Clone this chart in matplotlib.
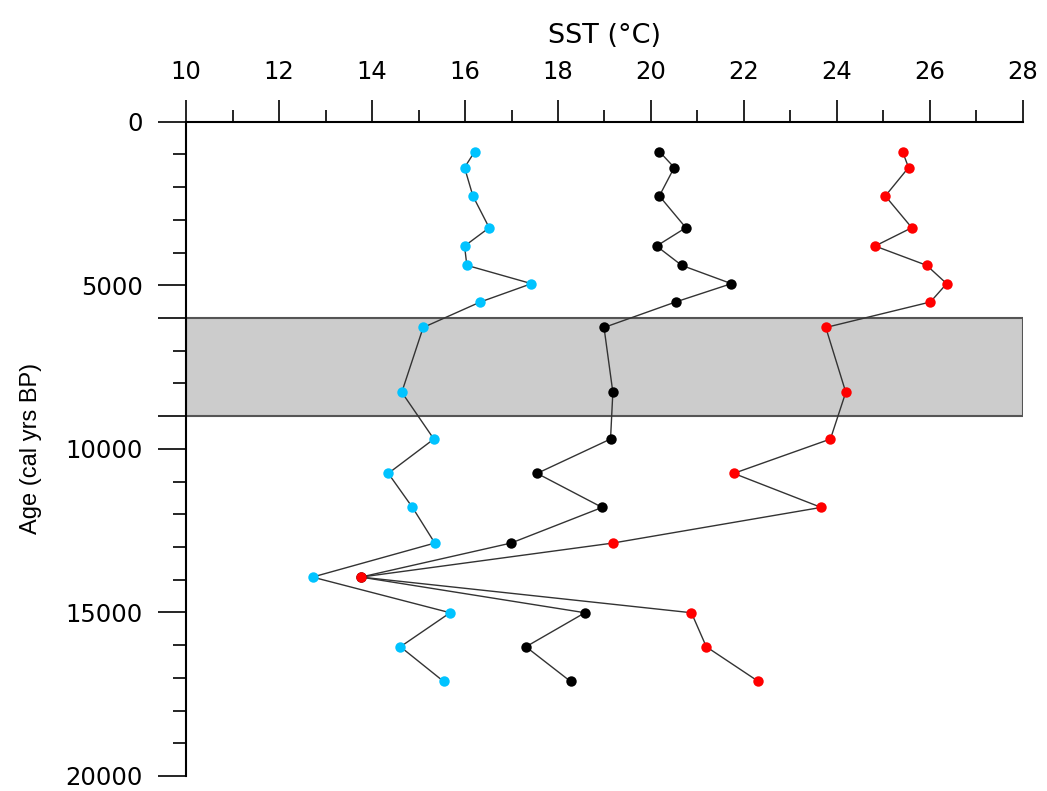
import matplotlib
matplotlib.use("Agg")
import matplotlib.pyplot as plt
from matplotlib.ticker import MultipleLocator, FixedLocator, FixedFormatter

# sample ages (cal yrs BP) and SST estimates (deg C)
age = [910, 1400, 2270, 3240, 3800, 4390, 4950, 5510, 6290, 8270, 9700,
       10750, 11790, 12880, 13920, 15010, 16050, 17110]
sst_blue = [16.21, 15.99, 16.17, 16.52, 15.99, 16.04, 17.43, 16.33, 15.10, 14.64, 15.33,
            14.35, 14.87, 15.35, 12.72, 15.68, 14.61, 15.54]
sst_black = [20.18, 20.50, 20.18, 20.75, 20.12, 20.66, 21.73, 20.53, 18.99, 19.18, 19.13,
             17.55, 18.95, 16.99, 13.76, 18.58, 17.31, 18.27]
sst_red = [25.41, 25.54, 25.04, 25.61, 24.82, 25.93, 26.36, 26.01, 23.76, 24.19, 23.86,
           21.78, 23.66, 19.18, 13.76, 20.87, 21.19, 22.31]

band = (6000, 9000)
y_major = [0, 5000, 6000, 9000, 10000, 15000, 20000]
y_labels = ['0', '5000', '', '', '10000', '15000', '20000']

plt.rcParams['font.family'] = ['DejaVu Sans']

fig = plt.figure(figsize=(10.47, 7.91), dpi=100)
ax = fig.add_axes([0.1777, 0.019, 0.7993, 0.8271])

# shaded interval
ax.axhspan(band[0], band[1], facecolor='#cccccc', edgecolor='#555555', lw=1.5, zorder=1)

for vals, col in [(sst_blue, '#00c3ff'), (sst_black, 'black'), (sst_red, '#ff0000')]:
    ax.plot(vals, age, color='#333333', lw=1.0, zorder=2)
    ax.plot(vals, age, 'o', color=col, ms=7.5, mew=0, zorder=3)

ax.set_xlim(10, 28)
ax.set_ylim(20000, 0)

ax.xaxis.set_ticks_position('top')
ax.xaxis.set_label_position('top')
ax.xaxis.set_major_locator(MultipleLocator(2))
ax.xaxis.set_minor_locator(MultipleLocator(1))
ax.yaxis.set_major_locator(FixedLocator(y_major))
ax.yaxis.set_major_formatter(FixedFormatter(y_labels))
ax.yaxis.set_minor_locator(MultipleLocator(1000))

ax.tick_params(axis='x', which='major', length=15.5, width=1.2, pad=12, labelsize=17.5)
ax.tick_params(axis='x', which='minor', length=8.5, width=1.2)
ax.tick_params(axis='y', which='major', length=20, width=1.2, pad=11, labelsize=17.5)
ax.tick_params(axis='y', which='minor', length=9.5, width=1.2)

for s in ['right', 'bottom']:
    ax.spines[s].set_visible(False)
ax.spines['left'].set_linewidth(1.5)
ax.spines['top'].set_linewidth(1.5)

ax.set_xlabel('SST (°C)', fontsize=19.5, labelpad=12)
ax.set_ylabel('Age (cal yrs BP)', fontsize=17,
              family=['Liberation Sans Narrow', 'Liberation Sans', 'DejaVu Sans'])
ax.yaxis.set_label_coords(-0.172, 0.5)

fig.savefig('out.png', dpi=100)
